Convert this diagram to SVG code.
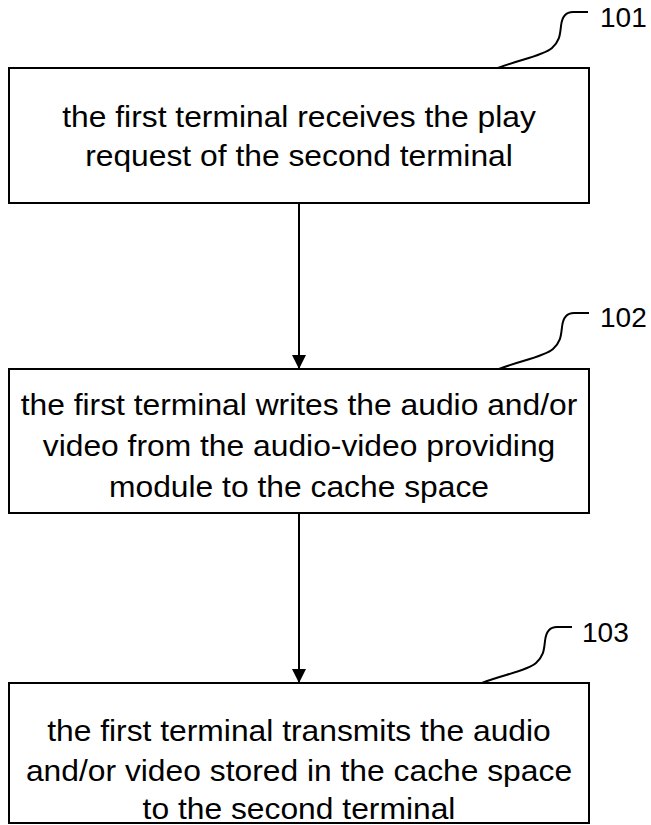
<svg xmlns="http://www.w3.org/2000/svg" width="651" height="825" viewBox="0 0 651 825">
<defs>
<style>
.box{fill:#fff;stroke:#000;stroke-width:2}
.t{font-family:"Liberation Sans",Arial,sans-serif;font-size:30px;fill:#000;text-anchor:middle}
.lbl{font-family:"Liberation Sans",Arial,sans-serif;font-size:28px;fill:#000}
.lead{fill:none;stroke:#000;stroke-width:2}
.conn{stroke:#000;stroke-width:2;fill:none}
</style>
<marker id="ah" markerWidth="14" markerHeight="14" refX="14" refY="7" orient="auto" markerUnits="userSpaceOnUse">
<path d="M0,0 L14,7 L0,14 Z" fill="#000"/>
</marker>
<path id="leader" d="M0,56 C20,48 45,44 54,36 C62,29 62,22 63,14 C64,4 68,0 75,0 L90,0"/>
</defs>
<rect width="651" height="825" fill="#fff"/>
<g id="connectors">
<line class="conn" x1="299" y1="203" x2="299" y2="369" marker-end="url(#ah)"/>
<line class="conn" x1="299" y1="513" x2="299" y2="683" marker-end="url(#ah)"/>
</g>
<g id="node101">
<rect class="box" x="9" y="68" width="580" height="135"/>
<g transform="translate(299,0) scale(1.06,1)">
<text class="t" x="0" y="127">the first terminal receives the play</text>
<text class="t" x="0" y="166">request of the second terminal</text>
</g>
<use href="#leader" class="lead" transform="translate(498,12)"/>
<text class="lbl" x="600" y="27">101</text>
</g>
<g id="node102">
<rect class="box" x="9" y="369" width="580" height="144"/>
<g transform="translate(299,0) scale(1.06,1)">
<text class="t" x="0" y="415">the first terminal writes the audio and/or</text>
<text class="t" x="0" y="456">video from the audio-video providing</text>
<text class="t" x="0" y="497">module to the cache space</text>
</g>
<use href="#leader" class="lead" transform="translate(499,313)"/>
<text class="lbl" x="600" y="327">102</text>
</g>
<g id="node103">
<rect class="box" x="9" y="683" width="580" height="140"/>
<g transform="translate(299,0) scale(1.06,1)">
<text class="t" x="0" y="741">the first terminal transmits the audio</text>
<text class="t" x="0" y="781">and/or video stored in the cache space</text>
<text class="t" x="0" y="819">to the second terminal</text>
</g>
<use href="#leader" class="lead" transform="translate(482,627)"/>
<text class="lbl" x="582" y="642">103</text>
</g>
</svg>
